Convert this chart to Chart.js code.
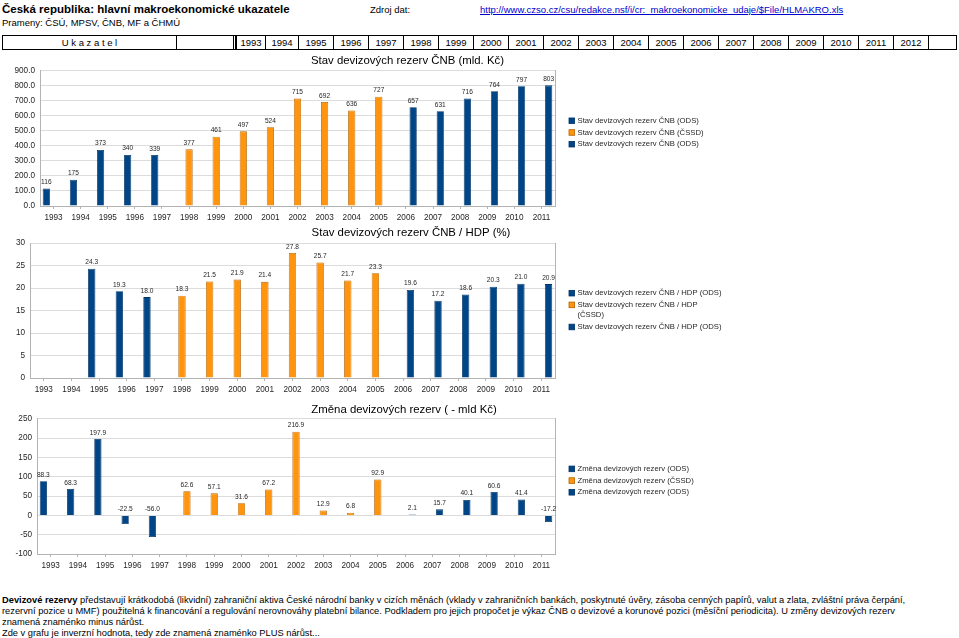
<!DOCTYPE html>
<html><head><meta charset="utf-8">
<script src="https://cdn.jsdelivr.net/npm/chart.js@4.4.0/dist/chart.umd.min.js"></script>
<style>
html,body{margin:0;padding:0}
body{width:959px;height:638px;background:#fff;font-family:"Liberation Sans",Arial,sans-serif;position:relative;overflow:hidden;color:#000}
.abs{position:absolute;white-space:nowrap}
#hdr{position:absolute;left:2px;top:35px;width:953px;height:13px;border:1px solid #000}
.cell{position:absolute;top:0;height:13px;line-height:13px;font-size:9.5px;text-align:center;border-left:1px solid #000;box-sizing:border-box}
canvas{position:absolute;left:0}
#foot{position:absolute;left:2px;top:594.5px;font-family:"Liberation Sans",Arial,sans-serif;font-size:9.3px;line-height:11px;white-space:nowrap}
</style></head><body>
<div class="abs" style="left:2px;top:2px;font-size:11.5px;font-weight:bold;line-height:14px">Česká republika: hlavní makroekonomické ukazatele</div>
<div class="abs" style="left:2px;top:16px;font-size:9.5px;line-height:14px">Prameny: ČSÚ, MPSV, ČNB, MF a ČHMÚ</div>
<div class="abs" style="left:370px;top:3px;font-size:9.5px;line-height:14px">Zdroj dat:</div>
<div class="abs" style="left:480px;top:3px;font-size:9.5px;line-height:14px;color:#0000cc;text-decoration:underline">http://www.czso.cz/csu/redakce.nsf/i/cr:_makroekonomicke_udaje/$File/HLMAKRO.xls</div>
<div id="hdr"></div>

<canvas id="c1" width="815" height="176" style="top:50px"></canvas>
<canvas id="c2" width="822" height="176" style="top:222px"></canvas>
<canvas id="c3" width="808" height="175" style="top:399px"></canvas>

<div id="foot"><b>Devizové rezervy</b> představují krátkodobá (likvidní) zahraniční aktiva České národní banky v cizích měnách (vklady v zahraničních bankách, poskytnuté úvěry, zásoba cenných papírů, valut a zlata, zvláštní práva čerpání,<br>rezervní pozice u MMF) použitelná k financování a regulování nerovnováhy platební bilance. Podkladem pro jejich propočet je výkaz ČNB o devizové a korunové pozici (měsíční periodicita). U změny devizových rezerv<br>znamená znaménko minus nárůst.<br>Zde v grafu je inverzní hodnota, tedy zde znamená znaménko PLUS nárůst...</div>

<script>
// ---- data ----
const headerYears = ['1993','1994','1995','1996','1997','1998','1999','2000','2001','2002','2003','2004','2005','2006','2007','2008','2009','2010','2011','2012'];
const years = ['1993','1994','1995','1996','1997','1998','1999','2000','2001','2002','2003','2004','2005','2006','2007','2008','2009','2010','2011'];

const reservesODS1 = [116,175,373,340,339,null,null,null,null,null,null,null,null,null,null,null,null,null,null];
const reservesCSSD = [null,null,null,null,null,377,461,497,524,715,692,636,727,null,null,null,null,null,null];
const reservesODS2 = [null,null,null,null,null,null,null,null,null,null,null,null,null,657,631,716,764,797,803];

const gdpODS1 = [null,null,24.3,19.3,18.0,null,null,null,null,null,null,null,null,null,null,null,null,null,null];
const gdpCSSD = [null,null,null,null,null,18.3,21.5,21.9,21.4,27.8,25.7,21.7,23.3,null,null,null,null,null,null];
const gdpODS2 = [null,null,null,null,null,null,null,null,null,null,null,null,null,19.6,17.2,18.6,20.3,21.0,20.9];

const changeODS1 = [88.3,68.3,197.9,-22.5,-56.0,null,null,null,null,null,null,null,null,null,null,null,null,null,null];
const changeCSSD = [null,null,null,null,null,62.6,57.1,31.6,67.2,216.9,12.9,6.8,92.9,null,null,null,null,null,null];
const changeODS2 = [null,null,null,null,null,null,null,null,null,null,null,null,null,2.1,15.7,40.1,60.6,41.4,-17.2];

const titles = ['Stav devizových rezerv ČNB (mld. Kč)','Stav devizových rezerv ČNB / HDP (%)','Změna devizových rezerv ( - mld Kč)'];
const legend1 = ['Stav devizových rezerv ČNB (ODS)','Stav devizových rezerv ČNB (ČSSD)','Stav devizových rezerv ČNB (ODS)'];
const legend2 = ['Stav devizových rezerv ČNB / HDP (ODS)',['Stav devizových rezerv ČNB / HDP','(ČSSD)'],'Stav devizových rezerv ČNB / HDP (ODS)'];
const legend3 = ['Změna devizových rezerv (ODS)','Změna devizových rezerv (ČSSD)','Změna devizových rezerv (ODS)'];

const axis1 = {min:0, max:900, step:100};
const axis2 = {min:0, max:30, step:5};
const axis3 = {min:-100, max:250, step:50};

// ---- header row ----
(function(){
  const hdr = document.getElementById('hdr');
  const add = (l,w,txt,extra)=>{const d=document.createElement('div');d.className='cell';d.style.left=l+'px';d.style.width=w+'px';d.textContent=txt;if(extra)Object.assign(d.style,extra);hdr.appendChild(d);};
  add(0,173,'U k a z a t e l',{borderLeft:'none'});
  add(173,57,'');
  add(230,3,'',{borderRight:'1px solid #000'});
  const widths=[29,33];
  let x=233;
  headerYears.forEach((y,i)=>{const w=i<2?widths[i]:35; add(x,w,y); x+=w;});
  add(x,953-x,'');
})();

// ---- chart helpers ----
const FONT = '"Liberation Sans", Arial, sans-serif';
const FILL = ['#004586','#ff950e','#004586'];
const EDGE = ['#003468','#b56300','#003468'];
const GRID = '#dcdcdc', AXIS = '#b3b3b3', TXT = '#262626';

const valueLabels = {
  id:'valueLabels',
  afterDatasetsDraw(chart, args, opts){
    const ctx = chart.ctx;
    ctx.save();
    ctx.font = '6.6px ' + FONT;
    ctx.fillStyle = TXT; ctx.textAlign='center'; ctx.textBaseline='bottom';
    chart.data.datasets.forEach((ds,i)=>{
      chart.getDatasetMeta(i).data.forEach((bar,j)=>{
        const v = ds.data[j];
        if (v === null || v === undefined) return;
        const top = Math.min(bar.y, bar.base);
        ctx.fillText(opts.fmt(v), bar.x, top - 3);
      });
    });
    ctx.restore();
  }
};

const sideLegend = {
  id:'sideLegend',
  afterDraw(chart, args, opts){
    const ctx = chart.ctx;
    ctx.save();
    ctx.font = '7.7px ' + FONT;
    ctx.textAlign='left'; ctx.textBaseline='middle';
    let y = chart.chartArea.top + 50;
    opts.items.forEach((txt,i)=>{
      const lines = Array.isArray(txt) ? txt : [txt];
      ctx.fillStyle = FILL[i]; ctx.strokeStyle = EDGE[i]; ctx.lineWidth = 0.8;
      ctx.fillRect(569, y-2.8, 5.6, 5.6); ctx.strokeRect(569, y-2.8, 5.6, 5.6);
      ctx.fillStyle = TXT;
      lines.forEach((ln,k)=>{ ctx.fillText(ln, 577.5, y + k*10.4); });
      y += 11.7 + (lines.length-1)*10.4;
    });
    ctx.restore();
  }
};

function build(id, o){
  const W = document.getElementById(id).width;
  return new Chart(document.getElementById(id), {
    type:'bar',
    data:{
      labels: years,
      datasets: o.series.map((s,i)=>({
        label: Array.isArray(o.legend[i]) ? o.legend[i].join(' ') : o.legend[i],
        data: s, backgroundColor: FILL[i], borderColor: EDGE[i], borderWidth: 0.8,
        categoryPercentage: 0.8, barPercentage: 1.0
      }))
    },
    options:{
      responsive:false, animation:false, devicePixelRatio:1,
      layout:{padding:{top:o.padTop, left:0, right:0, bottom:0}},
      plugins:{
        legend:{display:false}, tooltip:{enabled:false},
        title:{display:true, text:o.title, color:'#000', font:{family:FONT, size:11.4, weight:'normal', lineHeight:1.2}, padding:{top:0, bottom:o.titlePadBottom}},
        valueLabels:{fmt:o.fmt},
        sideLegend:{items:o.legend}
      },
      scales:{
        x:{
          grid:{display:true, drawOnChartArea:false, drawTicks:true, tickLength:3, offset:false, color:AXIS},
          border:{display:true, color:AXIS},
          ticks:{font:{family:FONT, size:8.2}, color:TXT, padding:4, maxRotation:0, autoSkip:false},
          afterFit(s){ s.height = 20; }
        },
        y:{
          min:o.axis.min, max:o.axis.max,
          grid:{color:GRID, drawTicks:false},
          border:{display:true, color:AXIS},
          ticks:{stepSize:o.axis.step, font:{family:FONT, size:8.2}, color:TXT, padding:5, callback:o.tick},
          afterFit(s){ s.width = o.yWidth; }
        },
        yr:{
          position:'right', display:true,
          grid:{display:true, drawOnChartArea:false, drawTicks:false},
          ticks:{display:false},
          border:{display:true, color:AXIS},
          afterFit(s){ s.width = W - 555; }
        }
      }
    },
    plugins:[valueLabels, sideLegend]
  });
}

build('c1', {series:[reservesODS1,reservesCSSD,reservesODS2], legend:legend1, title:titles[0], axis:axis1,
  padTop:4.1, titlePadBottom:3, yWidth:40, fmt:v=>String(Math.round(v)), tick:v=>Number(v).toFixed(1)});
build('c2', {series:[gdpODS1,gdpCSSD,gdpODS2], legend:legend2, title:titles[1], axis:axis2,
  padTop:3.6, titlePadBottom:3.9, yWidth:30, fmt:v=>v.toFixed(1), tick:v=>String(v)});
build('c3', {series:[changeODS1,changeCSSD,changeODS2], legend:legend3, title:titles[2], axis:axis3,
  padTop:3.8, titlePadBottom:2.4, yWidth:37, fmt:v=>v.toFixed(1), tick:v=>String(v)});
</script>
</body></html>
